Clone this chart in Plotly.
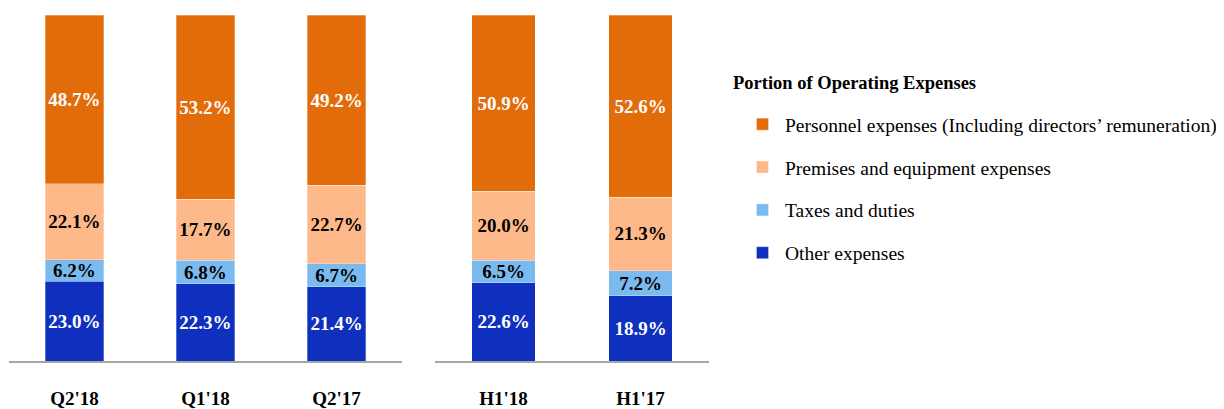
import plotly.graph_objects as go

quarters = ["Q2'18", "Q1'18", "Q2'17"]
halves = ["H1'18", "H1'17"]

series_names = [
    "Other expenses",
    "Taxes and duties",
    "Premises and equipment expenses",
    "Personnel expenses (Including directors’ remuneration)",
]
quarter_values = {
    "Other expenses": [23.0, 22.3, 21.4],
    "Taxes and duties": [6.2, 6.8, 6.7],
    "Premises and equipment expenses": [22.1, 17.7, 22.7],
    "Personnel expenses (Including directors’ remuneration)": [48.7, 53.2, 49.2],
}
half_values = {
    "Other expenses": [22.6, 18.9],
    "Taxes and duties": [6.5, 7.2],
    "Premises and equipment expenses": [20.0, 21.3],
    "Personnel expenses (Including directors’ remuneration)": [50.9, 52.6],
}
legend_ranks = [4, 3, 2, 1]
colors = ["#0F30BE", "#7BBAEF", "#FDB98A", "#E36C0A"]
text_colors = ["white", "black", "black", "white"]

FONT = "Liberation Serif, Times New Roman, serif"

fig = go.Figure()
for i, name in enumerate(series_names):
    for xs, vals, xa, show in [(quarters, quarter_values[name], "x", True),
                              (halves, half_values[name], "x2", False)]:
        fig.add_trace(go.Bar(
            x=xs, y=vals, name=name, xaxis=xa, yaxis="y",
            marker=dict(color=colors[i], line=dict(color="rgba(255,255,255,0.6)", width=0.5)),
            width=0.45 if xa == "x" else 0.46,
            text=[f"{v:.1f}%" for v in vals],
            textposition="inside", insidetextanchor="middle", textangle=0,
            textfont=dict(family=FONT, size=19, color=text_colors[i], weight="bold"),
            legendgroup=name, showlegend=show, legendrank=legend_ranks[i],
        ))

# page body has an 8px margin: figure coords = screen coords - 8
OFF = 8
W, H = 1224 - OFF, 409 - OFF


def px(xs):
    return (xs - OFF) / W


def py(ys):
    return 1 - (ys - OFF) / H


tickfont = dict(family=FONT, size=19, color="black", weight="bold")
fig.update_layout(
    width=W, height=H,
    margin=dict(l=0, r=0, t=0, b=0),
    paper_bgcolor="white", plot_bgcolor="white",
    barmode="stack", bargap=0.55,
    uniformtext=dict(minsize=19, mode="show"),
    font=dict(family=FONT, color="black"),
    yaxis=dict(domain=[py(361), py(15)], range=[0, 100],
               visible=False, fixedrange=True, automargin=False),
    xaxis=dict(domain=[px(9), px(402)], range=[-0.5, 2.5], showline=True,
               linecolor="#A6A6A6", linewidth=2, showgrid=False, ticks="",
               ticklabelstandoff=19, automargin=False, tickfont=tickfont),
    xaxis2=dict(domain=[px(435), px(709)], range=[-0.5, 1.5], anchor="y",
                showline=True, linecolor="#A6A6A6", linewidth=2, showgrid=False,
                ticks="", ticklabelstandoff=19, automargin=False, tickfont=tickfont),
    showlegend=True,
    legend=dict(x=px(740), xanchor="left", y=py(105), yanchor="top",
                traceorder="grouped", tracegroupgap=14.5, itemwidth=35,
                font=dict(family=FONT, size=19.5, color="black"),
                bgcolor="rgba(0,0,0,0)"),
    annotations=[dict(text="<b>Portion of Operating Expenses</b>", x=px(731), y=py(83),
                      xref="paper", yref="paper", xanchor="left", yanchor="middle",
                      showarrow=False, font=dict(family=FONT, size=18.5, color="black"))],
)

fig.write_html("out.html")
